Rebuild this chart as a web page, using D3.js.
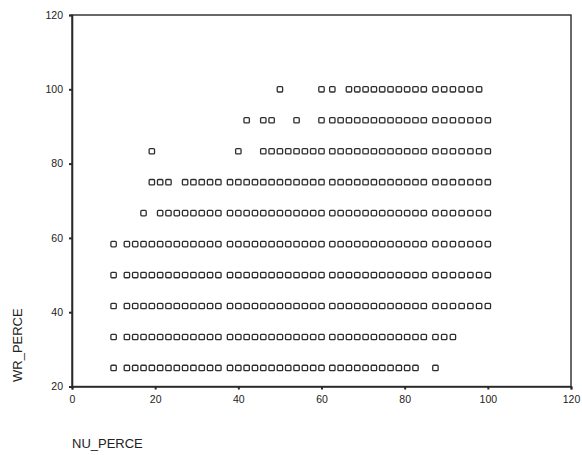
<!DOCTYPE html>
<html>
<head>
<meta charset="utf-8">
<script src="https://cdn.jsdelivr.net/npm/d3@7"></script>
<style>
  body { margin: 0; background: #fff; }
  svg text { font-family: "Liberation Sans", Arial, sans-serif; fill: #222; }
</style>
</head>
<body>
<svg id="chart" width="582" height="455"></svg>
<script>
'use strict';

// axis ticks
var xTicks = [0, 20, 40, 60, 80, 100, 120];
var yTicks = [20, 40, 60, 80, 100, 120];

// WR_PERCE levels (y) and the NU_PERCE values (x) seen on each level
var wrLevels = [25, 33.33, 41.67, 50, 58.33, 66.67, 75, 83.33, 91.67, 100];

var nuAt25 = [10, 13.2, 15.2, 17.2, 19.2, 21.2, 23.2, 25.2, 27.2, 29.2, 31.2, 33.2, 35.2,
  38, 40, 42, 44, 46, 48, 50, 52, 54, 56, 58, 60,
  62.6, 64.6, 66.6, 68.6, 70.6, 72.6, 74.6, 76.6, 78.6, 80.6, 82.6, 87.4];
var nuAt33 = [10, 13.2, 15.2, 17.2, 19.2, 21.2, 23.2, 25.2, 27.2, 29.2, 31.2, 33.2, 35.2,
  38, 40, 42, 44, 46, 48, 50, 52, 54, 56, 58, 60,
  62.6, 64.6, 66.6, 68.6, 70.6, 72.6, 74.6, 76.6, 78.6, 80.6, 82.6, 84.6,
  87.4, 89.5, 91.6];
var nuAt42 = [10, 13.2, 15.2, 17.2, 19.2, 21.2, 23.2, 25.2, 27.2, 29.2, 31.2, 33.2, 35.2,
  38, 40, 42, 44, 46, 48, 50, 52, 54, 56, 58, 60,
  62.6, 64.6, 66.6, 68.6, 70.6, 72.6, 74.6, 76.6, 78.6, 80.6, 82.6, 84.6,
  87.4, 89.5, 91.6, 93.7, 95.8, 97.9, 100];
var nuAt50 = [10, 13.2, 15.2, 17.2, 19.2, 21.2, 23.2, 25.2, 27.2, 29.2, 31.2, 33.2, 35.2,
  38, 40, 42, 44, 46, 48, 50, 52, 54, 56, 58, 60,
  62.6, 64.6, 66.6, 68.6, 70.6, 72.6, 74.6, 76.6, 78.6, 80.6, 82.6, 84.6,
  87.4, 89.5, 91.6, 93.7, 95.8, 97.9, 100];
var nuAt58 = [10, 13.2, 15.2, 17.2, 19.2, 21.2, 23.2, 25.2, 27.2, 29.2, 31.2, 33.2, 35.2,
  38, 40, 42, 44, 46, 48, 50, 52, 54, 56, 58, 60,
  62.6, 64.6, 66.6, 68.6, 70.6, 72.6, 74.6, 76.6, 78.6, 80.6, 82.6, 84.6,
  87.4, 89.5, 91.6, 93.7, 95.8, 97.9, 100];
var nuAt67 = [17.2, 21.2, 23.2, 25.2, 27.2, 29.2, 31.2, 33.2, 35.2,
  38, 40, 42, 44, 46, 48, 50, 52, 54, 56, 58, 60,
  62.6, 64.6, 66.6, 68.6, 70.6, 72.6, 74.6, 76.6, 78.6, 80.6, 82.6, 84.6,
  87.4, 89.5, 91.6, 93.7, 95.8, 97.9, 100];
var nuAt75 = [19.2, 21.2, 23.2, 27.2, 29.2, 31.2, 33.2, 35.2,
  38, 40, 42, 44, 46, 48, 50, 52, 54, 56, 58, 60,
  62.6, 64.6, 66.6, 68.6, 70.6, 72.6, 74.6, 76.6, 78.6, 80.6, 82.6, 84.6,
  87.4, 89.5, 91.6, 93.7, 95.8, 97.9, 100];
var nuAt83 = [19.2, 40, 46, 48, 50, 52, 54, 56, 58, 60,
  62.6, 64.6, 66.6, 68.6, 70.6, 72.6, 74.6, 76.6, 78.6, 80.6, 82.6, 84.6,
  87.4, 89.5, 91.6, 93.7, 95.8, 97.9, 100];
var nuAt92 = [42, 46, 48, 54, 60,
  62.6, 64.6, 66.6, 68.6, 70.6, 72.6, 74.6, 76.6, 78.6, 80.6, 82.6, 84.6,
  87.4, 89.5, 91.6, 93.7, 95.8, 97.9, 100];
var nuAt100 = [50, 60, 62.6,
  66.6, 68.6, 70.6, 72.6, 74.6, 76.6, 78.6, 80.6, 82.6, 84.6,
  87.4, 89.5, 91.6, 93.7, 95.8, 97.9];

var nuByLevel = [nuAt25, nuAt33, nuAt42, nuAt50, nuAt58, nuAt67, nuAt75, nuAt83, nuAt92, nuAt100];

// flatten into points
var points = [];
wrLevels.forEach(function(wr, i) {
  nuByLevel[i].forEach(function(nu) {
    points.push({ nu: nu, wr: wr });
  });
});

var svg = d3.select('#chart');
var ink = '#2a2a2a';

var x = d3.scaleLinear().domain([0, 120]).range([72, 571]);
var y = d3.scaleLinear().domain([20, 120]).range([386.5, 15]);

// frame
svg.append('rect')
  .attr('x', x(0)).attr('y', y(120))
  .attr('width', x(120) - x(0)).attr('height', y(20) - y(120))
  .attr('fill', 'none').attr('stroke', ink).attr('stroke-width', 1.4);

// bottom axis
var xAxis = svg.append('g')
  .attr('transform', 'translate(0,' + y(20) + ')')
  .call(d3.axisBottom(x).tickValues(xTicks).tickSize(3).tickPadding(6));

// left axis
var yAxis = svg.append('g')
  .attr('transform', 'translate(' + x(0) + ',0)')
  .call(d3.axisLeft(y).tickValues(yTicks).tickSize(3).tickPadding(6));

[xAxis, yAxis].forEach(function(g) {
  g.select('.domain').attr('stroke', ink).attr('stroke-width', 1.6);
  g.selectAll('.tick line').attr('stroke', ink).attr('stroke-width', 2);
  g.selectAll('.tick text')
    .attr('font-family', '"Liberation Sans", Arial, sans-serif')
    .attr('font-size', 10.5)
    .attr('fill', '#222');
});

// markers: small open squares, slightly rounded like the scan
var s = 5.4;
svg.append('g').selectAll('rect')
  .data(points)
  .join('rect')
    .attr('x', function(d) { return x(d.nu) - s / 2; })
    .attr('y', function(d) { return y(d.wr) - s / 2; })
    .attr('width', s)
    .attr('height', s)
    .attr('rx', 1)
    .attr('fill', '#fff')
    .attr('stroke', '#2e2e2e')
    .attr('stroke-width', 1.3);

// axis titles
svg.append('text')
  .attr('x', x(0))
  .attr('y', 448)
  .attr('font-size', 13)
  .text('NU_PERCE');

svg.append('text')
  .attr('transform', 'translate(22,382) rotate(-90)')
  .attr('font-size', 13)
  .text('WR_PERCE');
</script>
</body>
</html>
